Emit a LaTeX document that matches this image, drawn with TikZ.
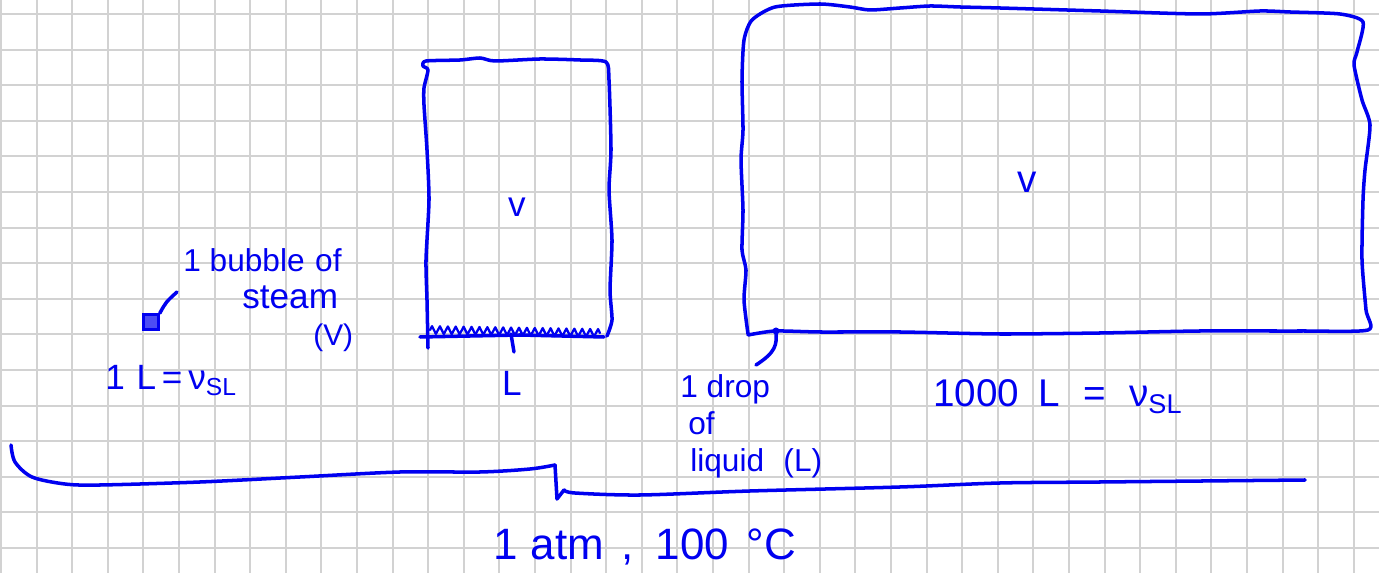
\documentclass[tikz,border=0pt]{standalone}
\usepackage{fontspec}
\setmainfont{Liberation Sans}
\usepackage{xcolor}
\usepackage{tikz}
\usetikzlibrary{decorations.pathmorphing}
\definecolor{pen}{RGB}{0,0,240}
\definecolor{gridgray}{RGB}{210,210,210}

\begin{document}
\begin{tikzpicture}[
        x=0.02cm, y=-0.02cm,
        gridline/.style={gridgray, line width=1.1pt},
        ink/.style={pen, line width=2pt, line cap=round, line join=round},
        hand/.style={text=pen, inner sep=0pt, font=\fontsize{20}{24}\selectfont},
        notehand/.style={hand, font=\fontsize{18}{22}\selectfont},
        bighand/.style={hand, font=\fontsize{25}{30}\selectfont}
    ]

    % Paper
    \useasboundingbox (0,0) rectangle (1379,573);
    \fill[white] (0,0) rectangle (1379,573);
    \foreach \i in {0,...,38} \draw[gridline] (1+35.6*\i,0) -- (1+35.6*\i,573);
    \foreach \j in {0,...,15} \draw[gridline] (0,14+35.6*\j) -- (1379,14+35.6*\j);

    % Small container
    \draw[ink] plot[smooth, tension=0.4] coordinates {(428,348) (427,300) (426,260) (429,200) (427,150) (424,105) (424,88) (428,70) (423,66) (426,61)
        (460,60) (480,58) (495,61) (540,59) (580,60) (606,62)
        (609,80) (611,150) (609,190) (612,240) (610,290) (612,320) (607,336)};

    % Liquid layer
    \draw[ink, line width=1.3pt, decorate, decoration={zigzag, amplitude=2.2pt, segment length=4.5pt}] (430,330) -- (600,333);
    \draw[ink] (420,337) -- (520,335) -- (604,337);
    \coordinate (layer) at (511,334);
    \coordinate (layertip) at (514,352);
    \draw[ink] (layer) -- (layertip);

    % Large container
    \draw[ink] plot[smooth, tension=0.4] coordinates {(748,334) (744,300) (746,270) (742,250) (743,210) (741,160) (743,130) (742,80) (744,40) (752,20) (775,7)
        (820,4) (850,7) (870,10) (900,8) (930,6) (960,7) (1000,8) (1100,11) (1200,14) (1260,11) (1290,12) (1340,14) (1363,22)
        (1357,52) (1354,65) (1362,100) (1370,125) (1365,170) (1363,200) (1362,260) (1366,310) (1368,330)
        (1300,331) (1200,331) (1100,333) (1000,334) (900,332) (820,332) (775,331) (748,335)};

    % Vapour labels
    \node[hand] (vsmall) at (517,207) {v};
    \node[hand, font=\fontsize{22}{26}\selectfont] (vbig) at (1027,182) {v};

    % Bubble of steam
    \node[draw=pen, fill=pen!70, line width=1.5pt, minimum size=0.3cm, inner sep=0pt] (bubble) at (151,322) {};
    \coordinate (bubbletip) at (177,292);
    \draw[ink] (bubble.north east) .. controls (166,302) .. (bubbletip);
    \node[notehand, anchor=base west] (bubtxt) at (183,272) {1 bubble\,\,of};
    \node[hand, anchor=base west] (steam) at (242,309) {steam};
    \node[hand, font=\fontsize{17}{20}\selectfont, anchor=base west] (vapV) at (313,346) {(V)};
    \node[hand, anchor=base west] (eqone) at (105,390) {1\,\,L\,=\,ν\textsubscript{SL}};

    % Liquid label
    \node[hand] (liqL) at (512,383) {L};

    % Drop of liquid
    \coordinate (dropmark) at (776,331);
    \coordinate (droptail) at (756,365);
    \fill[pen] (dropmark) circle (3.5);
    \draw[ink] (droptail) .. controls (776,352) and (777,345) .. (dropmark);
    \node[notehand, anchor=base west] (drop) at (680,398) {1 drop};
    \node[notehand, anchor=base west] (dropof) at (688,435) {of};
    \node[notehand, anchor=base west] (liquid) at (690,472) {liquid\,\, (L)};
    \node[hand, font=\fontsize{22}{26}\selectfont, anchor=base west] (eqthousand) at (933,407) {1000\hspace{0.5em}L\hspace{0.6em}=\hspace{0.6em}ν\textsubscript{SL}};

    % Brace
    \draw[ink] plot[smooth, tension=0.5] coordinates {(11,445) (15,462) (32,477) (65,484) (100,485) (200,482) (300,477) (400,472) (480,472) (530,469) (555,465)};
    \draw[ink] (555,465) -- (557,499) -- (564,490);
    \draw[ink] plot[smooth, tension=0.5] coordinates {(564,490) (575,493) (640,495) (750,491) (900,487) (1000,483) (1100,482) (1305,480)};
    \node[bighand, anchor=base west] (cond) at (493,560) {1\hspace{0.3em}atm\hspace{0.4em},\hspace{0.5em}100\hspace{0.4em}°C};

\end{tikzpicture}
\end{document}
